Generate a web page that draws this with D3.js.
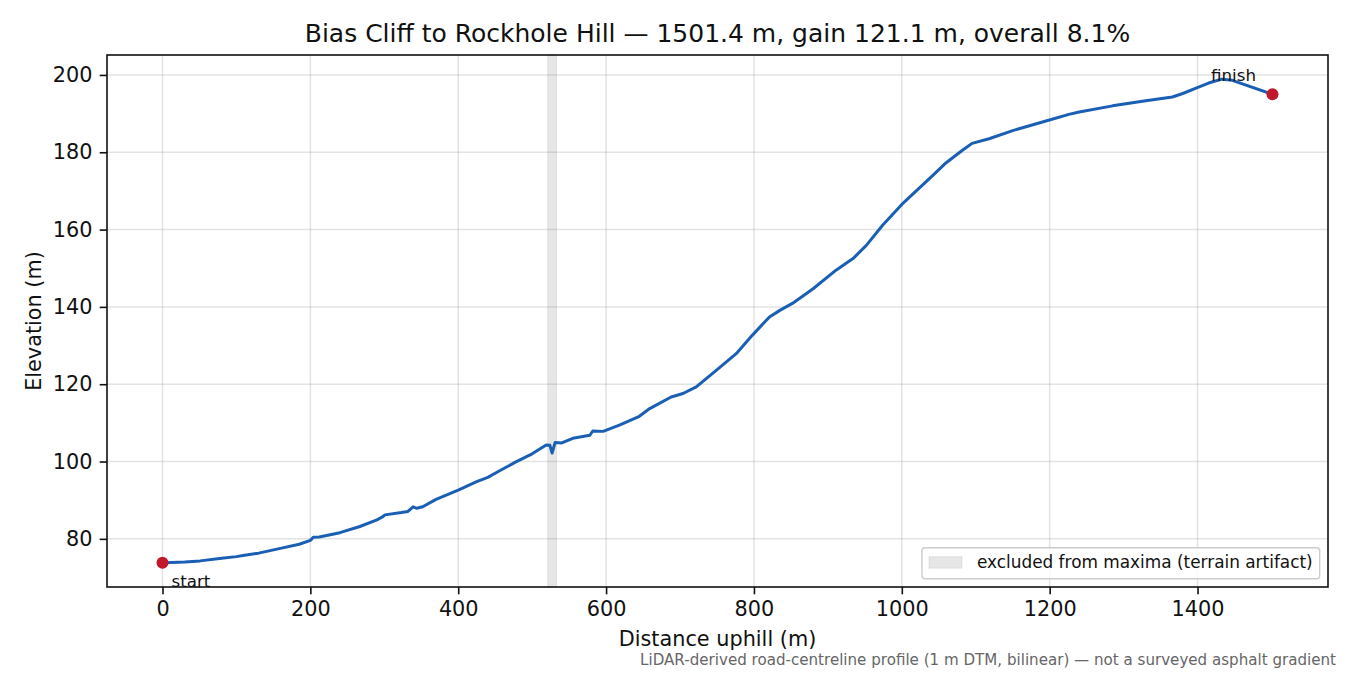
<!DOCTYPE html>
<html>
<head>
<meta charset="utf-8">
<script src="https://cdn.jsdelivr.net/npm/d3@7"></script>
<style>
  body { margin: 0; background: #fff; }
  svg { font-family: "DejaVu Sans", sans-serif; }
</style>
</head>
<body>
<svg id="chart" width="1350" height="675"></svg>
<script>
// profile (distance uphill m, elevation m)
const distance = [0, 12, 30, 51, 80, 100, 109, 130, 161, 185, 200, 204, 212, 240, 267, 290, 297, 301,
  323, 332, 339, 344, 352, 370, 400, 425, 440, 456, 478, 500, 519, 524, 527, 531, 540, 555, 578, 582,
  596, 618, 645, 659, 688, 704, 722, 749, 776, 798, 821, 835, 852, 880, 911, 934, 952, 974, 1000,
  1042, 1060, 1082, 1095, 1118, 1150, 1195, 1226, 1240, 1285, 1330, 1366, 1380, 1398, 1415, 1433, 1447, 1501.4]
const elevation = [73.8, 73.9, 74.0, 74.3, 75.0, 75.4, 75.7, 76.3, 77.6, 78.6, 79.6, 80.4, 80.5, 81.6,
  83.2, 84.9, 85.6, 86.2, 86.8, 87.1, 88.3, 87.9, 88.3, 90.2, 92.6, 94.8, 95.9, 97.6, 99.9, 102.0,
  104.3, 104.2, 102.2, 104.9, 104.8, 106.0, 106.8, 107.9, 107.8, 109.4, 111.7, 113.7, 116.7, 117.6,
  119.3, 123.6, 127.9, 132.7, 137.4, 139.1, 140.9, 144.7, 149.5, 152.5, 155.9, 161.1, 166.5,
  174.0, 177.3, 180.5, 182.3, 183.5, 185.6, 188.1, 189.8, 190.4, 192.0, 193.3, 194.3, 195.2, 196.6,
  197.9, 198.9, 198.6, 195.0]

const excluded = [521, 533]
const xTicks = [0, 200, 400, 600, 800, 1000, 1200, 1400]
const yTicks = [80, 100, 120, 140, 160, 180, 200]

const titleText = 'Bias Cliff to Rockhole Hill \u2014 1501.4 m, gain 121.1 m, overall 8.1%'
const legendText = 'excluded from maxima (terrain artifact)'
const noteText = 'LiDAR-derived road-centreline profile (1 m DTM, bilinear) \u2014 not a surveyed asphalt gradient'

const margin = { top: 55, right: 22, bottom: 88, left: 107 }
const W = 1350, H = 675
const points = distance.map((d, i) => ({ d: d, e: elevation[i] }))

const svg = d3.select('#chart')

// matplotlib-style 5% padding
const xExt = d3.extent(distance), yExt = d3.extent(elevation)
const xPad = (xExt[1] - xExt[0]) * 0.05, yPad = (yExt[1] - yExt[0]) * 0.05
const x = d3.scaleLinear().domain([xExt[0] - xPad, xExt[1] + xPad]).range([margin.left, W - margin.right])
const y = d3.scaleLinear().domain([yExt[0] - yPad, yExt[1] + yPad]).range([H - margin.bottom, margin.top])

const plot = svg.append('g')
const x0 = margin.left, x1 = W - margin.right, y0 = margin.top, y1 = H - margin.bottom

// grid
plot.append('g').selectAll('line').data(xTicks).join('line')
  .attr('x1', d => x(d)).attr('x2', d => x(d)).attr('y1', y0).attr('y2', y1)
  .attr('stroke', '#b0b0b0').attr('stroke-opacity', 0.35).attr('stroke-width', 1.5)
plot.append('g').selectAll('line').data(yTicks).join('line')
  .attr('x1', x0).attr('x2', x1).attr('y1', d => y(d)).attr('y2', d => y(d))
  .attr('stroke', '#b0b0b0').attr('stroke-opacity', 0.35).attr('stroke-width', 1.5)

// excluded band
plot.append('rect')
  .attr('x', x(excluded[0])).attr('width', x(excluded[1]) - x(excluded[0]))
  .attr('y', y0).attr('height', y1 - y0)
  .attr('fill', '#808080').attr('fill-opacity', 0.2)
  .attr('stroke', '#808080').attr('stroke-opacity', 0.15)

// profile line
const line = d3.line().x(p => x(p.d)).y(p => y(p.e))
plot.append('path').datum(points)
  .attr('d', line)
  .attr('fill', 'none')
  .attr('stroke', '#1a5fb4')
  .attr('stroke-width', 3)
  .attr('stroke-linejoin', 'round')
  .attr('stroke-linecap', 'round')

// start / finish markers
const start = points[0], finish = points[points.length - 1]
plot.selectAll('circle').data([start, finish]).join('circle')
  .attr('cx', p => x(p.d)).attr('cy', p => y(p.e)).attr('r', 6)
  .attr('fill', '#c1192b')

plot.append('text').attr('x', x(start.d) + 9).attr('y', y(start.e) + 24)
  .attr('font-size', 16.7).attr('fill', '#111').text('start')
plot.append('text').attr('x', x(finish.d) - 39).attr('y', y(finish.e) - 13)
  .attr('font-size', 16.7).attr('fill', '#111').attr('text-anchor', 'middle').text('finish')

// axes frame
svg.append('rect').attr('x', x0).attr('y', y0).attr('width', x1 - x0).attr('height', y1 - y0)
  .attr('fill', 'none').attr('stroke', '#111').attr('stroke-width', 1.6)

const xAxis = d3.axisBottom(x).tickValues(xTicks).tickSize(7.3).tickPadding(7.3).tickFormat(d3.format('d'))
const yAxis = d3.axisLeft(y).tickValues(yTicks).tickSize(7.3).tickPadding(7.3).tickFormat(d3.format('d'))

const gx = svg.append('g').attr('transform', `translate(0,${y1})`).call(xAxis)
const gy = svg.append('g').attr('transform', `translate(${x0},0)`).call(yAxis)
;[gx, gy].forEach(g => {
  g.select('.domain').remove()
  g.selectAll('.tick line').attr('stroke', '#111').attr('stroke-width', 1.6)
  g.selectAll('.tick text').attr('font-size', 20.8).attr('fill', '#111')
    .attr('font-family', '"DejaVu Sans", sans-serif')
})

// labels
svg.append('text').attr('x', (x0 + x1) / 2).attr('y', 646).attr('text-anchor', 'middle')
  .attr('font-size', 20.8).attr('fill', '#111').text('Distance uphill (m)')
svg.append('text').attr('transform', `translate(41,${(y0 + y1) / 2}) rotate(-90)`)
  .attr('text-anchor', 'middle').attr('font-size', 20.8).attr('fill', '#111').text('Elevation (m)')
svg.append('text').attr('x', (x0 + x1) / 2).attr('y', 42).attr('text-anchor', 'middle')
  .attr('font-size', 25).attr('fill', '#111').text(titleText)
svg.append('text').attr('x', 1336).attr('y', 665).attr('text-anchor', 'end')
  .attr('font-size', 15.1).attr('fill', '#666').text(noteText)

// legend
const lg = svg.append('g')
const lgBox = lg.append('rect')
const lgText = lg.append('text').attr('font-size', 16.9).attr('fill', '#111').text(legendText)
const tw = lgText.node().getComputedTextLength()
const lgW = 55 + tw + 7, lgH = 31
const lgX = x1 - 8.3 - lgW, lgY = y1 - 8.3 - lgH
lgBox.attr('x', lgX).attr('y', lgY).attr('width', lgW).attr('height', lgH).attr('rx', 3)
  .attr('fill', '#fff').attr('fill-opacity', 0.8).attr('stroke', '#cccccc').attr('stroke-width', 1.4)
lg.append('rect').attr('x', lgX + 7).attr('y', lgY + 9).attr('width', 33).attr('height', 11.5)
  .attr('fill', '#808080').attr('fill-opacity', 0.2).attr('stroke', '#808080').attr('stroke-opacity', 0.15)
lgText.attr('x', lgX + 55).attr('y', lgY + 20)
</script>
</body>
</html>
